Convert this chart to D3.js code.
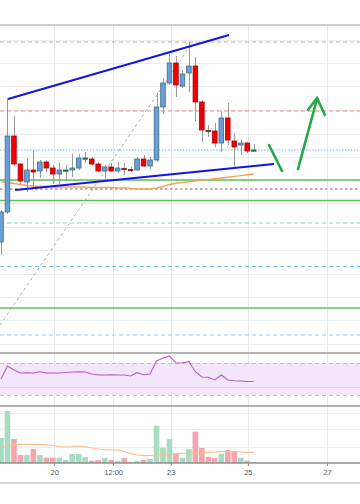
<!DOCTYPE html>
<html><head><meta charset="utf-8">
<script src="https://cdn.jsdelivr.net/npm/d3@7"></script>
<style>body{margin:0;background:#fff;}svg{display:block;font-family:"Liberation Sans",Arial,sans-serif;}</style>
</head><body><svg id="c" width="360" height="504"></svg>
<script>
// ---------------- DATA ----------------
const opens  = [5846,5906,6058,6002,5966,5990,5988,6006,5994,5982,5989,5990,5994,6013,6012,6002,5988,5996,5988,5993,5991,5990,6012,5998,6010,6116,6164,6204,6158,6184,6198,6126,6069,6068,6044,6094,6048,6040,6044,6029];
const highs  = [5910,6134,6098,6004,6014,6030,6010,6010,6000,6004,6000,6022,6022,6026,6016,6006,6000,6004,6006,6004,5996,6016,6020,6016,6144,6174,6226,6218,6190,6246,6216,6130,6080,6084,6108,6124,6064,6050,6046,6042];
const lows   = [5820,5902,5998,5962,5946,5954,5974,5986,5962,5962,5970,5976,5990,6004,5998,5986,5972,5986,5984,5980,5986,5988,5996,5992,6006,6102,6160,6136,6154,6146,6088,6046,6056,6036,6026,6040,5994,6020,6024,6028];
const closes = [5906,6058,6002,5968,5990,5986,6006,5994,5982,5990,5990,5994,6014,6014,6002,5988,5996,5988,5994,5991,5989,6012,5998,6010,6116,6164,6204,6160,6182,6198,6126,6070,6067,6044,6094,6050,6036,6044,6028,6030];
const priceMA = [5967,5965,5963,5961,5959,5958,5957,5957,5956,5956,5956,5956,5956,5956,5955,5955,5955,5955,5954,5954,5953,5952,5952,5952,5954,5957,5961,5963.4,5965,5966.6,5968,5969.6,5971.2,5972.6,5974,5975.6,5977.2,5978.8,5980.4,5982];
const rsiValues = [50,66.3,61.3,57.5,57.9,57.5,59.1,57.5,57.5,57.5,58.1,58.8,59.1,58.8,56.3,55,55,55.4,55,55,53.8,57.9,55.4,56.3,72.5,76.3,78.8,70,70.4,71.6,59.1,52.5,52.1,48.8,55,48.8,47.9,47.5,46.9,46.9];
const volumes = [250,520,240,80,80,140,80,53,53,53,30,90,90,60,23,30,50,30,20,50,13,20,30,40,373,153,240,90,53,140,313,150,60,50,93,130,113,53,23,10];
const volumeMA = [150,170,185,187,187,187,187,185,175,163,160,163,170,163,150,140,133,130,130,115,97,80,73,73,80,85,90,93,97,97,100,103,107,110,113,113,113,110,107,107];
const tickLabels = ["20","12:00","23","25","27"];
const tickIndex  = [8.2,17.3,26.2,38.1,50.3];
const gridPrices = [6251,6204,6157,6110,6063,6016,5970,5923,5876,5830,5783,5736,5690,5643];
const levelPrices = [6246,6108,6030,5970,5952,5929,5884,5797,5714,5660];
const upperTrend = [[1.08,6132],[35.19,6260]];
const lowerTrend = [[2.16,5950],[42.13,6002]];
const fibDiagonal = [[-0.15,5680],[29.63,6246]];
const arrowDown = [[41.36,6040],[43.37,5988]];
const arrowUp = [[45.84,5992],[48.77,6132]];
const arrowHead = [[47.38,6110],[48.77,6134],[50.0,6100]];
const rsiBand = [70,30];
const rsiGrid = [40];
const volGrid = [500,340,163];

// ---------------- SCALES ----------------
const W = 360;
const x = d3.scaleLinear().domain([0,39]).range([1,253.7]);
const yP = d3.scaleLinear().domain([5626,6280]).range([352,25]);
const yR = d3.scaleLinear().domain([30,70]).range([395,363]);
const yV = d3.scaleLinear().domain([0,570]).range([463,406]);
const crisp = v => Math.round(v)+0.5;

const svg = d3.select("#c");
const defs = svg.append("defs");
defs.append("clipPath").attr("id","cp").append("rect").attr("x",0).attr("y",25).attr("width",W).attr("height",327);
defs.append("clipPath").attr("id","cr").append("rect").attr("x",0).attr("y",353).attr("width",W).attr("height",53);
defs.append("clipPath").attr("id","cv").append("rect").attr("x",0).attr("y",406).attr("width",W).attr("height",57);

// ---------------- GRID ----------------
const grid = svg.append("g");
grid.selectAll(".hg").data(gridPrices).join("line")
  .attr("x1",0).attr("x2",W).attr("y1",d=>crisp(yP(d))).attr("y2",d=>crisp(yP(d)))
  .attr("stroke","#ececec").attr("stroke-width",1);
grid.selectAll(".vgv").data(volGrid).join("line")
  .attr("x1",0).attr("x2",W).attr("y1",d=>crisp(yV(d))).attr("y2",d=>crisp(yV(d)))
  .attr("stroke","#ececec").attr("stroke-width",1);
grid.selectAll(".vg").data(tickIndex).join("line")
  .attr("x1",d=>crisp(x(d))).attr("x2",d=>crisp(x(d))).attr("y1",25).attr("y2",463)
  .attr("stroke","#e8e8e8").attr("stroke-width",1);

// ---------------- RSI PANE ----------------
const rp = svg.append("g").attr("clip-path","url(#cr)");
rp.append("rect").attr("x",0).attr("width",W)
  .attr("y",yR(rsiBand[0])).attr("height",yR(rsiBand[1])-yR(rsiBand[0]))
  .attr("fill","#f3e6fb");
rp.selectAll(".rb").data(rsiBand).join("line")
  .attr("x1",0).attr("x2",W).attr("y1",d=>crisp(yR(d))).attr("y2",d=>crisp(yR(d)))
  .attr("stroke","#cdb0dc").attr("stroke-dasharray","4,3");
rp.selectAll(".rg").data(rsiGrid).join("line")
  .attr("x1",0).attr("x2",W).attr("y1",d=>crisp(yR(d))).attr("y2",d=>crisp(yR(d)))
  .attr("stroke","#e2d2ec");
rp.append("path").datum(rsiValues)
  .attr("d",d3.line().x((d,i)=>x(i)).y(d=>yR(d)))
  .attr("fill","none").attr("stroke","#b45cc8").attr("stroke-width",1.1);

// ---------------- VOLUME PANE ----------------
const vp = svg.append("g").attr("clip-path","url(#cv)");
const bw = 5.6;
vp.selectAll(".vb").data(volumes).join("rect")
  .attr("x",(d,i)=>x(i)-bw/2).attr("width",bw)
  .attr("y",d=>yV(d)).attr("height",d=>yV(0)-yV(d))
  .attr("fill",(d,i)=>closes[i]>=opens[i]?"#a6dcc0":"#f6a5ad");
vp.append("path").datum(volumeMA)
  .attr("d",d3.line().x((d,i)=>x(i)).y(d=>yV(d)))
  .attr("fill","none").attr("stroke","#fbc08e").attr("stroke-width",1.2);

// ---------------- PRICE PANE ----------------
const pp = svg.append("g").attr("clip-path","url(#cp)");
const levelStyle = [
  {c:"#b0b0b0",w:1,da:"4,3"},
  {c:"#ee8888",w:1,da:"4,3"},
  {c:"#a8cdf4",w:1.6,da:"1.5,1.5"},
  {c:"#5cc05c",w:1.4,da:null},
  {c:"#c2aeb0",w:2,da:"2.5,2.5"},
  {c:"#5cc05c",w:1.4,da:null},
  {c:"#7ad6bf",w:1,da:"4,3"},
  {c:"#6fc0e6",w:1,da:"4,3"},
  {c:"#8ccc8c",w:2,da:null},
  {c:"#8fc8ec",w:1,da:"4,3"}
];
pp.selectAll(".lv").data(levelPrices).join("line")
  .attr("x1",0).attr("x2",W)
  .attr("y1",d=>yP(d)).attr("y2",d=>yP(d))
  .attr("stroke",(d,i)=>levelStyle[i].c).attr("stroke-width",(d,i)=>levelStyle[i].w)
  .attr("stroke-dasharray",(d,i)=>levelStyle[i].da);

const ptLine = d3.line().x(d=>x(d[0])).y(d=>yP(d[1]));
pp.append("path").datum(fibDiagonal).attr("d",ptLine)
  .attr("stroke","#a8a8a8").attr("stroke-width",1).attr("stroke-dasharray","3,3").attr("fill","none");

pp.append("path").datum(priceMA)
  .attr("d",d3.line().x((d,i)=>x(i)).y(d=>yP(d)))
  .attr("fill","none").attr("stroke","#f0a458").attr("stroke-width",1.4);

// candles
const cw = 4.6;
const cg = pp.append("g");
cg.selectAll(".wk").data(opens).join("line")
  .attr("x1",(d,i)=>crisp(x(i))).attr("x2",(d,i)=>crisp(x(i)))
  .attr("y1",(d,i)=>yP(highs[i])).attr("y2",(d,i)=>yP(lows[i]))
  .attr("stroke","#9a9a9a").attr("stroke-width",1);
cg.selectAll(".bd").data(opens).join("rect")
  .attr("x",(d,i)=>x(i)-cw/2).attr("width",cw)
  .attr("y",(d,i)=>yP(Math.max(d,closes[i])))
  .attr("height",(d,i)=>Math.max(1.2,Math.abs(yP(d)-yP(closes[i]))))
  .attr("fill",(d,i)=>{
    const up = closes[i]>=d, small = Math.abs(closes[i]-d)<=3;
    if(small) return up?"#1f6b4c":"#8a1c1c";
    return up?"#6a9ed8":"#f00000";})
  .attr("stroke",(d,i)=>{
    const up = closes[i]>=d, small = Math.abs(closes[i]-d)<=3;
    if(small) return up?"#1f6b4c":"#8a1c1c";
    return up?"#3c6d86":"#b00000";})
  .attr("stroke-width",0.8);

// trend lines
[upperTrend,lowerTrend].forEach(t=>{
  pp.append("path").datum(t).attr("d",ptLine)
    .attr("stroke","#1414e6").attr("stroke-width",2).attr("fill","none");
});
// green arrow
[arrowDown,arrowUp,arrowHead].forEach(t=>{
  pp.append("path").datum(t).attr("d",ptLine)
    .attr("stroke","#22aa48").attr("stroke-width",2.6).attr("fill","none")
    .attr("stroke-linecap","round").attr("stroke-linejoin","miter");
});

// ---------------- FRAME / AXIS ----------------
const fr = svg.append("g");
[[25,"#a0a0a0",1.2],[353,"#9a9a9a",1.4],[406,"#9a9a9a",1.4],[463,"#909090",1.4],[483,"#b0b0b0",1.2]].forEach(([yy,c,w])=>{
  fr.append("line").attr("x1",0).attr("x2",W).attr("y1",yy).attr("y2",yy).attr("stroke",c).attr("stroke-width",w);
});
const axisG = svg.append("g").attr("transform","translate(0,463)");
const xAxis = d3.axisBottom(x).tickValues(tickIndex).tickFormat((d,i)=>tickLabels[i]).tickSize(3).tickPadding(4);
axisG.call(xAxis);
axisG.select(".domain").remove();
axisG.selectAll(".tick line").attr("stroke","#888");
axisG.selectAll(".tick text").attr("fill","#555").attr("font-size","7.5px").attr("font-family","Liberation Sans, Arial, sans-serif");
</script></body></html>
